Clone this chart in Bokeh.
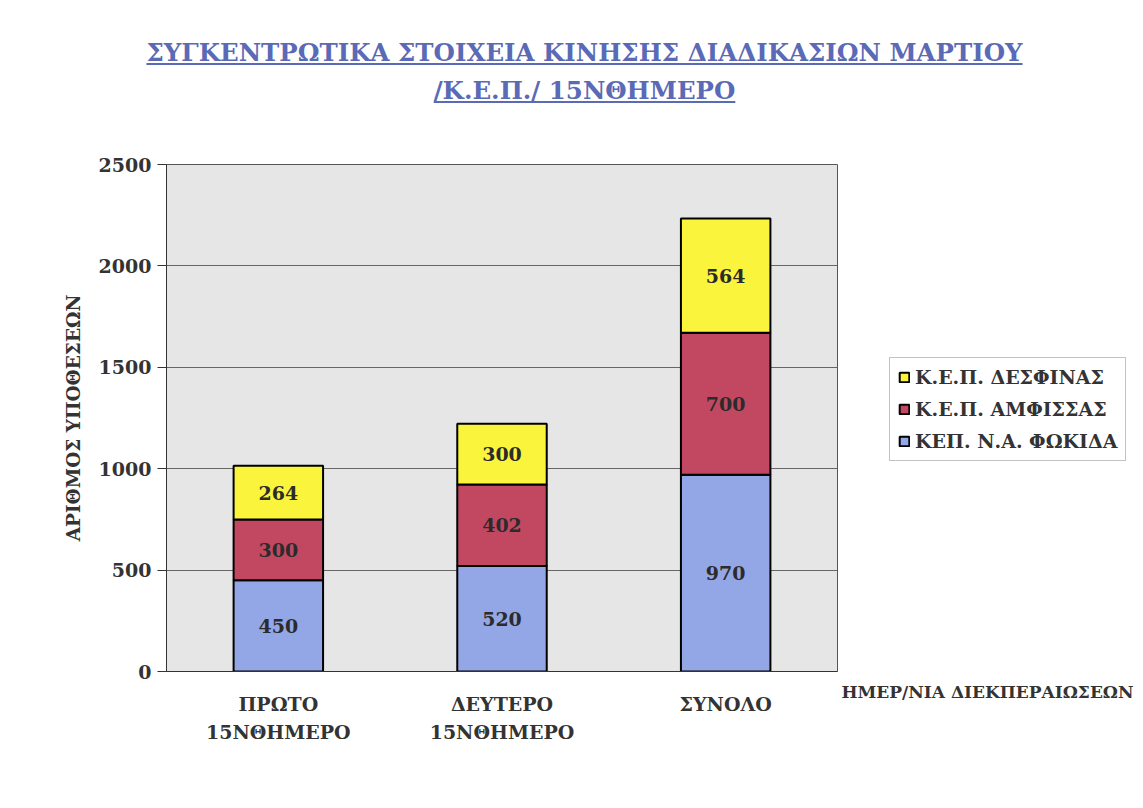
import numpy as np
from bokeh.plotting import figure
from bokeh.models import ColumnDataSource, Range1d, Legend, Div, LinearAxis, FixedTicker
from bokeh.layouts import column, row
from bokeh.core.properties import value
from bokeh.embed import file_html
from bokeh.resources import INLINE

categories = ["ΠΡΩΤΟ\n15ΝΘΗΜΕΡΟ", "ΔΕΥΤΕΡΟ\n15ΝΘΗΜΕΡΟ", "ΣΥΝΟΛΟ"]
series_names = ["ΚΕΠ. Ν.Α. ΦΩΚΙΔΑ", "Κ.Ε.Π. ΑΜΦΙΣΣΑΣ", "Κ.Ε.Π. ΔΕΣΦΙΝΑΣ"]
fokida = [450, 520, 970]
amfissa = [300, 402, 700]
desfina = [264, 300, 564]
colors = ["#93a6e6", "#c24862", "#fbf43c"]
y_ticks = [0, 500, 1000, 1500, 2000, 2500]
x_title = "ΗΜΕΡ/ΝΙΑ ΔΙΕΚΠΕΡΑΙΩΣΕΩΝ"

FONT = "DejaVu Serif"
TXT = "#333333"
H = 662

keys = ["fokida", "amfissa", "desfina"]
source = ColumnDataSource(dict(cat=categories, fokida=fokida, amfissa=amfissa, desfina=desfina))

p = figure(x_range=categories, y_range=Range1d(0, 2500), width=839, height=H,
           output_backend="svg", toolbar_location=None,
           min_border_left=166, min_border_right=2, min_border_top=24, min_border_bottom=131)

rs = p.vbar_stack(keys, x="cat", width=0.4, color=colors, source=source,
                  line_color="black", line_width=2)

# value labels in each segment
vals = np.array([fokida, amfissa, desfina], dtype=float)
bottoms = np.vstack([np.zeros(3), np.cumsum(vals, axis=0)[:-1]])
mids = bottoms + vals / 2
lab = ColumnDataSource(dict(
    x=[c for _ in range(3) for c in categories],
    y=list(mids.flatten()),
    t=[str(int(v)) for v in vals.flatten()],
))
p.text(x="x", y="y", text="t", source=lab, text_align="center", text_baseline="middle",
       text_font=value(FONT), text_font_style="bold", text_font_size="19px", text_color="#2b2b2b")

# styling
p.background_fill_color = "#e6e6e6"
p.border_fill_color = "white"
p.outline_line_color = "#555555"
p.outline_line_width = 1
p.xgrid.grid_line_color = None
p.ygrid.grid_line_color = "#666666"
p.ygrid.grid_line_width = 1
p.yaxis.ticker = y_ticks
p.yaxis.minor_tick_line_color = None
p.yaxis.major_tick_out = 9
p.yaxis.major_tick_in = 0
p.yaxis.major_label_standoff = 6
p.yaxis.major_label_text_font = FONT
p.yaxis.major_label_text_font_style = "bold"
p.yaxis.major_label_text_font_size = "19px"
p.yaxis.major_label_text_color = TXT
p.yaxis.axis_line_color = TXT
p.yaxis.major_tick_line_color = TXT
p.yaxis.axis_label = "ΑΡΙΘΜΟΣ ΥΠΟΘΕΣΕΩΝ"
p.yaxis.axis_label_text_font = FONT
p.yaxis.axis_label_text_font_style = "bold"
p.yaxis.axis_label_text_font_size = "18.5px"
p.yaxis.axis_label_text_color = TXT
p.yaxis.axis_label_standoff = 12

p.xaxis.major_tick_line_color = None
p.xaxis.minor_tick_line_color = None
p.xaxis.axis_line_color = TXT
p.xaxis.major_label_standoff = 15
p.xaxis.major_label_text_font = FONT
p.xaxis.major_label_text_font_style = "bold"
p.xaxis.major_label_text_font_size = "19px"
p.xaxis.major_label_text_color = TXT
p.xaxis.major_label_text_line_height = 1.31

# side panel for the legend and the x-axis title; its frame is aligned with the main plot's
W2 = 296
p2 = figure(width=W2, height=H, x_range=Range1d(0, W2), y_range=Range1d(0, 507),
            output_backend="svg", toolbar_location=None, x_axis_type=None, y_axis_type=None,
            min_border_left=0, min_border_right=0, min_border_top=0, min_border_bottom=0)
p2.grid.grid_line_color = None
p2.outline_line_color = None
p2.background_fill_color = "white"
key_src = ColumnDataSource(dict(i=[0, 1, 2], fokida=fokida, amfissa=amfissa, desfina=desfina))
kr = [p2.vbar(x="i", top=k, width=0.4, source=key_src, fill_color=c, line_color="black",
              line_width=2, visible=False)
      for k, c in zip(keys, colors)]

legend = Legend(items=[(series_names[2], [kr[2]]), (series_names[1], [kr[1]]), (series_names[0], [kr[0]])],
                location=(50, 210), margin=0)
legend.label_text_font = FONT
legend.label_text_font_style = "bold"
legend.label_text_font_size = "19px"
legend.label_text_color = TXT
legend.glyph_width = 12
legend.glyph_height = 12
legend.label_standoff = 5
legend.label_height = 20
legend.spacing = 10
legend.padding = 8
legend.border_line_color = "#888888"
legend.border_line_width = 1
legend.background_fill_color = "white"
legend.background_fill_alpha = 1
legend.inactive_fill_alpha = 0
p2.add_layout(legend)

xt_axis = LinearAxis(ticker=FixedTicker(ticks=[]), axis_label=x_title)
xt_axis.axis_line_color = None
xt_axis.major_tick_line_color = None
xt_axis.minor_tick_line_color = None
xt_axis.major_tick_out = 0
xt_axis.major_label_standoff = 0
xt_axis.axis_label_standoff = 10
xt_axis.axis_label_text_font = FONT
xt_axis.axis_label_text_font_style = "bold"
xt_axis.axis_label_text_font_size = "17px"
xt_axis.axis_label_text_color = TXT
p2.add_layout(xt_axis, "below")

div = Div(text=('<div style="width:1127px; padding-top:29px; padding-left:32px; box-sizing:border-box; '
                'text-align:center; font-family:\'DejaVu Serif\'; font-weight:bold; font-size:24.5px; '
                'color:#5a6ab6; text-decoration:underline; line-height:38px;">'
                'ΣΥΓΚΕΝΤΡΩΤΙΚΑ ΣΤΟΙΧΕΙΑ ΚΙΝΗΣΗΣ ΔΙΑΔΙΚΑΣΙΩΝ ΜΑΡΤΙΟΥ<br>/Κ.Ε.Π./ 15ΝΘΗΜΕΡΟ</div>'),
          width=1127, height=130)

layout = column(div, row(p, p2))
open("out.html", "w").write(file_html(layout, INLINE))
